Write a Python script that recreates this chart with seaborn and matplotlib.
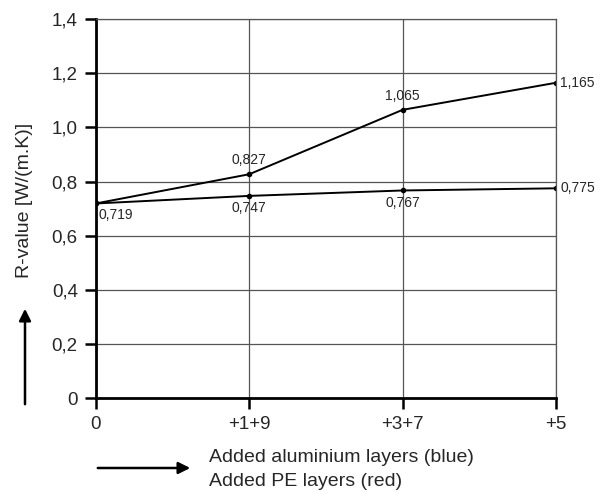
import matplotlib
matplotlib.use("Agg")
import pandas as pd
import matplotlib.pyplot as plt
import seaborn as sns

# Dados
categorias = ["0", "+1+9", "+3+7", "+5"]
aluminio = [0.719, 0.827, 1.065, 1.165]
pe = [0.719, 0.747, 0.767, 0.775]
rotulos_alu = ["", "0,827", "1,065", "1,165"]
rotulos_pe = ["0,719", "0,747", "0,767", "0,775"]
y_ticks = [0, 0.2, 0.4, 0.6, 0.8, 1.0, 1.2, 1.4]
y_labels = ["0", "0,2", "0,4", "0,6", "0,8", "1,0", "1,2", "1,4"]

sns.set_style("white")
plt.rcParams["font.family"] = ["Liberation Sans", "DejaVu Sans"]

df = pd.DataFrame({
    "pos": list(range(len(categorias))) * 2,
    "valor": aluminio + pe,
    "serie": ["alu"] * len(aluminio) + ["pe"] * len(pe),
})

fig = plt.figure(figsize=(6.03, 4.92), dpi=100)
ax = fig.add_axes([0.159, 0.191, 0.763, 0.770])

sns.lineplot(data=df, x="pos", y="valor", hue="serie", palette=["black", "black"],
             marker="o", markersize=4, linewidth=1.4, legend=False, ax=ax,
             markeredgewidth=0)

ax.set_xlim(0, len(categorias) - 1)
ax.set_ylim(0, 1.4)
ax.set_xticks(range(len(categorias)))
ax.set_xticklabels(categorias)
ax.set_yticks(y_ticks)
ax.set_yticklabels(y_labels)
ax.set_xlabel("")
ax.set_ylabel("")
ax.grid(True, color="#555555", linewidth=0.9)
ax.tick_params(axis="both", labelsize=13.5, length=8, width=1.8, color="black",
               direction="out", pad=5)
ax.tick_params(axis="y", left=True)
ax.tick_params(axis="x", bottom=True)

for s in ["left", "bottom"]:
    ax.spines[s].set_linewidth(2.0)
    ax.spines[s].set_color("black")
for s in ["top", "right"]:
    ax.spines[s].set_linewidth(0.9)
    ax.spines[s].set_color("#555555")

# Rótulos dos valores
offs_alu = [(0, 0), (0, 5), (0, 5), (3, 0)]
for i, (v, t) in enumerate(zip(aluminio, rotulos_alu)):
    if not t:
        continue
    dx, dy = offs_alu[i]
    ha = "left" if dx > 0 else "center"
    va = "center" if dx > 0 else "bottom"
    ax.annotate(t, (i, v), xytext=(dx, dy), textcoords="offset points",
                ha=ha, va=va, fontsize=10, clip_on=False)

offs_pe = [(2, -3), (0, -4), (0, -4), (3, 0)]
for i, (v, t) in enumerate(zip(pe, rotulos_pe)):
    dx, dy = offs_pe[i]
    if i == len(pe) - 1:
        ha, va = "left", "center"
    elif i == 0:
        ha, va = "left", "top"
    else:
        ha, va = "center", "top"
    ax.annotate(t, (i, v), xytext=(dx, dy), textcoords="offset points",
                ha=ha, va=va, fontsize=10, clip_on=False)

# Setas e títulos dos eixos
fig.patches.append(matplotlib.patches.FancyArrowPatch(
    (25 / 603, 1 - 407 / 492), (25 / 603, 1 - 306 / 492), transform=fig.transFigure,
    arrowstyle="-|>,head_length=7,head_width=3.5", color="black", linewidth=1.8))
fig.text(25 / 603, 1 - 200 / 492, "R-value [W/(m.K)]", rotation=90,
         ha="center", va="center", fontsize=14)

fig.patches.append(matplotlib.patches.FancyArrowPatch(
    (95 / 603, 1 - 468 / 492), (193 / 603, 1 - 468 / 492), transform=fig.transFigure,
    arrowstyle="-|>,head_length=7,head_width=3.5", color="black", linewidth=1.8))
fig.text(209 / 603, 1 - 457 / 492, "Added aluminium layers (blue)",
         ha="left", va="center", fontsize=14)
fig.text(209 / 603, 1 - 482 / 492, "Added PE layers (red)",
         ha="left", va="center", fontsize=14)

fig.savefig("out.png", dpi=100)
